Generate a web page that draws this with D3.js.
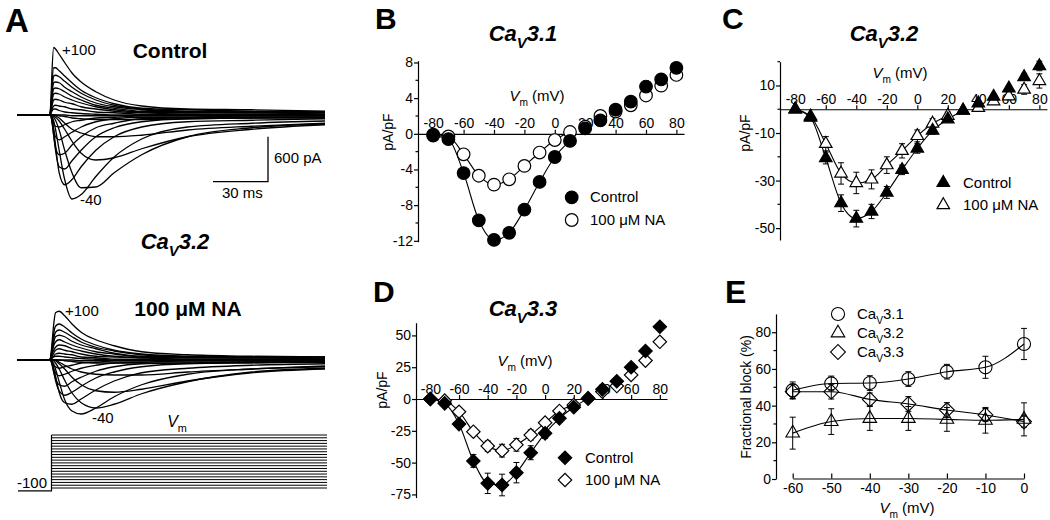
<!DOCTYPE html>
<html><head><meta charset="utf-8">
<script src="https://cdn.jsdelivr.net/npm/d3@7"></script>
<style>
body{margin:0;background:#fff}
svg{font-family:"Liberation Sans",Arial,Helvetica,sans-serif}
</style></head><body><svg id="c" width="1050" height="520"></svg>
<script>
// ---------- DATA ----------
const voltages = [-80,-70,-60,-50,-40,-30,-20,-10,0,10,20,30,40,50,60,70,80];
const xTickLabels = [-80,-60,-40,-20,0,20,40,60,80];

const b31Control = [-0.2,-0.6,-4.4,-9.7,-11.9,-11.1,-8.5,-5.4,-2.6,-0.8,0.6,1.5,2.7,3.6,5.3,6.1,7.4];
const b31NA      = [-0.1,-0.3,-2.3,-4.7,-5.7,-5.1,-3.6,-2.1,-0.7,0.2,0.8,2.0,2.5,3.2,4.3,5.4,6.6];
const b31ControlErr = [0,0.2,0.3,0.5,0.5,0.5,0.4,0.3,0.2,0.2,0.1,0.2,0.3,0.3,0.6,0.6,0.3];
const b31NAErr      = [0,0.1,0.2,0.3,0.3,0.3,0.3,0.2,0.2,0.1,0.2,0.2,0.2,0.3,0.3,0.3,0.3];
const bYTicks = [-12,-8,-4,0,4,8];

const c32Control = [0,-3.5,-20.5,-39.5,-46,-43,-35,-25.5,-16.5,-9,-4.2,-0.5,2.5,5.3,8.8,13.6,18.2];
const c32NA      = [0,-3,-14.5,-27,-31,-29.5,-23.5,-17.5,-11.2,-6,-2.7,-0.5,0.6,3.4,5.5,8.3,11.9];
const c32ControlErr = [0,1,2.5,3.5,3.5,3,2.5,2,2,1.5,1,1,1,1,1,1.5,2];
const c32NAErr      = [0,1,3,4.5,4.5,4,3.5,3,2.5,2,1.5,1,1,1,1.5,2,3];
const cYTicks = [10,-10,-30,-50];

const d33Control = [0,-3.4,-19.7,-48.7,-66.3,-67.6,-57.9,-42.2,-27,-15.2,-6.5,0.5,7.6,14,25,37.7,56.8];
const d33NA      = [0,-1.3,-10,-25.7,-37,-40.6,-36,-28.3,-18.6,-9.4,-4.7,0.5,5.8,10.2,18.9,30.2,45];
const d33ControlErr = [0,2,3,5,8,8.5,8,5.5,4,3,2,1.5,2,2,2,2,2];
const d33NAErr      = [0,1,2,3,4,5,5,4,3,2.5,2,1.5,2,2,2,2,2];
const dYTicks = [-75,-50,-25,0,25,50];

const eVoltages = [-60,-50,-40,-30,-20,-10,0];
const eCav31 = [48.4,52.1,52.3,54.5,58.5,60.9,73.6];
const eCav32 = [25,31.3,33,33,32.5,32,32.5];
const eCav33 = [47.6,47.6,43.4,40.9,37.6,34.9,31.3];
const eCav31Err = [4.5,4,4,4,4,6,8.5];
const eCav32Err = [8.7,7,6.5,6.5,6.5,7,9];
const eCav33Err = [4,4,3.5,4,4,3.5,3];
const eYTicks = [0,20,40,60,80];

// current traces (pA) sampled at traceTimes (ms)
const traceTimes = [0,0.5,1,2,3,5,8,12,17,25,35,50,75,110,150];
const ctrlTraces = [
 [0,200,530,900,880,810,700,560,440,310,200,120,80,70,50],
 [0,130,370,630,630,590,520,430,330,230,150,90,70,50,40],
 [0,110,290,520,530,510,450,370,290,200,130,80,50,40,40],
 [0,80,240,430,440,430,370,310,240,160,110,70,40,40,30],
 [0,70,190,350,360,350,310,250,200,130,90,50,40,30,30],
 [0,50,150,280,290,280,240,200,160,110,70,40,30,30,10],
 [0,40,110,200,210,200,170,150,110,80,50,30,10,10,10],
 [0,30,70,120,130,120,110,80,70,40,30,10,10,0,0],
 [0,20,50,80,80,60,40,30,20,10,0,0,0,0,0],
 [0,-10,-40,-110,-150,-160,-130,-90,-70,-40,-30,-10,-10,-10,-10],
 [0,-10,-70,-200,-290,-330,-290,-230,-160,-90,-50,-30,-30,-10,-10],
 [0,-10,-80,-270,-430,-530,-510,-400,-290,-170,-110,-50,-40,-30,-30],
 [0,-10,-70,-270,-470,-690,-720,-610,-470,-290,-170,-90,-50,-40,-40],
 [0,0,-40,-190,-400,-770,-930,-860,-690,-470,-290,-160,-90,-70,-50],
 [0,0,-10,-80,-190,-470,-860,-1120,-1060,-820,-560,-320,-160,-110,-80],
 [0,0,0,-30,-70,-200,-470,-770,-970,-960,-770,-530,-290,-170,-120],
 [0,0,0,-10,-30,-80,-190,-350,-510,-600,-570,-450,-290,-190,-130],
 [0,0,0,0,-10,-40,-110,-190,-240,-290,-290,-270,-200,-150,-110],
 [0,0,0,0,0,-10,-20,-40,-50,-60,-60,-60,-50,-40,-30],
 [0,0,0,0,0,0,0,-10,-10,-10,-10,-10,-10,-10,-10]
];
const naTraces = [
 [0,70,200,470,630,650,590,480,370,270,190,110,70,50,40],
 [0,50,150,350,450,480,440,360,280,200,130,80,50,40,40],
 [0,40,120,280,370,400,370,310,240,170,120,70,40,40,30],
 [0,40,110,230,310,330,310,250,200,150,90,50,40,30,30],
 [0,30,80,190,240,270,240,200,160,110,80,40,30,30,10],
 [0,30,70,130,170,200,190,150,120,80,50,30,10,10,10],
 [0,10,40,90,130,150,130,110,80,50,40,30,10,10,10],
 [0,10,30,50,80,90,80,70,40,30,10,10,0,0,0],
 [0,10,20,40,50,50,40,30,20,10,0,0,0,0,0],
 [0,-10,-30,-70,-90,-110,-90,-70,-40,-30,-10,-10,-10,-10,-10],
 [0,-10,-40,-120,-170,-210,-190,-150,-110,-70,-40,-30,-10,-10,-10],
 [0,-10,-50,-160,-250,-330,-350,-290,-230,-150,-90,-50,-40,-30,-30],
 [0,-10,-40,-150,-270,-410,-470,-430,-350,-240,-160,-90,-50,-40,-30],
 [0,0,-30,-110,-210,-430,-570,-590,-520,-400,-280,-170,-110,-70,-50],
 [0,0,-10,-50,-120,-290,-530,-680,-720,-640,-490,-330,-190,-120,-90],
 [0,0,0,-10,-40,-120,-270,-440,-570,-640,-590,-450,-290,-160,-110],
 [0,0,0,0,-10,-50,-120,-230,-330,-410,-430,-390,-280,-170,-120],
 [0,0,0,0,0,-30,-70,-120,-160,-190,-200,-200,-160,-120,-80],
 [0,0,0,0,0,0,-10,-20,-30,-40,-40,-40,-40,-30,-20],
 [0,0,0,0,0,0,0,0,-10,-10,-10,-10,-10,-10,-10]
];
const stepVoltages = [-90,-80,-70,-60,-50,-40,-30,-20,-10,0,10,20,30,40,50,60,70,80,90,100];
const holdingVoltage = -100;

// ---------- HELPERS ----------
const svg = d3.select('#c');
svg.append('rect').attr('width',1050).attr('height',520).attr('fill','#fff');
const INK = '#000';

function rich(parent, x, y, parts, o) {
  const t = parent.append('text').attr('x',x).attr('y',y)
    .attr('text-anchor',o.anchor||'start').attr('font-size',o.size)
    .attr('font-weight',o.weight||'normal').attr('font-style',o.style||'normal').attr('fill',INK);
  let shift = 0;
  parts.forEach(p => {
    const s = t.append('tspan').text(p.t);
    const target = p.sub ? o.size*0.3 : 0;
    if (target !== shift) { s.attr('dy', target-shift); shift = target; }
    if (p.sub) s.attr('font-size', o.size*0.68);
    if (p.it) s.attr('font-style','italic');
  });
  if (o.rotate) t.attr('transform',`rotate(-90,${x},${y})`);
  return t;
}
const vmParts = [{t:'V',it:true},{t:'m',sub:true},{t:' (mV)'}];
function styleAxis(g){
  g.attr('font-size',14).attr('font-family',null);
  g.selectAll('.domain,.tick line').attr('stroke',INK).attr('stroke-width',1.2);
  g.selectAll('.tick text').attr('fill',INK);
}
function letter(x,y,t,size){
  svg.append('text').attr('x',x).attr('y',y).attr('font-size',size||32).attr('font-weight','bold').attr('fill',INK).text(t);
}

// ---------- IV PANELS ----------
function ivPanel(cfg){
  const g = svg.append('g');
  const x = d3.scaleLinear().domain([-90,85]).range(cfg.xRange);
  const y = d3.scaleLinear().domain(cfg.yDom).range(cfg.yRange);
  const y0 = x.range()[0];
  const ya = g.append('g').attr('transform',`translate(${y0},0)`)
    .call(d3.axisLeft(y).tickValues(cfg.yTicks).tickSize(4).tickSizeOuter(0).tickPadding(cfg.yPad).tickFormat(d=>String(d)));
  styleAxis(ya);
  (cfg.yMinor||[]).forEach(v=>g.append('line').attr('x1',y0-2.5).attr('x2',y0).attr('y1',y(v)).attr('y2',y(v)).attr('stroke',INK).attr('stroke-width',1.2));
  const xa = g.append('g').attr('transform',`translate(0,${y(0)})`)
    .call(d3.axisTop(x).tickValues(xTickLabels).tickSize(4).tickSizeOuter(0).tickPadding(cfg.xPad).tickFormat(d=>String(d)));
  styleAxis(xa);
  rich(g, cfg.vm[0], cfg.vm[1], vmParts, {size:15, anchor:'middle'});
  rich(g, cfg.yl[0], cfg.yl[1], [{t:'pA/pF'}], {size:14, anchor:'middle', rotate:true});
  rich(g, cfg.title[0], cfg.title[1], [{t:'Ca'},{t:'V',sub:true},{t:cfg.titleNum}], {size:22, anchor:'middle', weight:'bold', style:'italic'});

  const series = [
    {vals:cfg.na, err:cfg.naErr, fill:'#fff', fit:cfg.naFit},
    {vals:cfg.ctrl, err:cfg.ctrlErr, fill:INK, fit:cfg.ctrlFit}
  ];
  const line = d3.line().x(d=>x(d[0])).y(d=>y(d[1])).curve(d3.curveMonotoneX);
  series.forEach(s=>{
    const pts = voltages.map((v,i)=>[v,s.vals[i]]).filter(d=>d[0]<=s.fit);
    g.append('path').attr('d',line(pts)).attr('fill','none').attr('stroke',INK).attr('stroke-width',1.1);
  });
  series.forEach(s=>{
    voltages.forEach((v,i)=>{
      const e = s.err[i]; if(!e) return;
      const cx = x(v), t = y(s.vals[i]+e), b = y(s.vals[i]-e);
      g.append('path').attr('d',`M${cx},${t}V${b}M${cx-3},${t}H${cx+3}M${cx-3},${b}H${cx+3}`)
        .attr('stroke',INK).attr('stroke-width',1).attr('fill','none');
    });
  });
  series.forEach(s=>{
    g.selectAll(null).data(voltages.map((v,i)=>[v,s.vals[i]])).join('path')
      .attr('d', d3.symbol().type(cfg.sym).size(cfg.symSize)())
      .attr('transform', d=>`translate(${x(d[0])},${y(d[1])})${cfg.rot?' rotate(45)':''}`)
      .attr('fill', s.fill).attr('stroke',INK).attr('stroke-width',1.2);
  });
  const lg = [[cfg.leg[1], INK, 'Control'], [cfg.leg[1]+cfg.leg[3], '#fff', '100 \u03bcM NA']];
  lg.forEach(l=>{
    g.append('path').attr('d', d3.symbol().type(cfg.sym).size(cfg.symSize)())
      .attr('transform',`translate(${cfg.leg[0]},${l[0]})${cfg.rot?' rotate(45)':''}`)
      .attr('fill',l[1]).attr('stroke',INK).attr('stroke-width',1.2);
    g.append('text').attr('x',cfg.leg[2]).attr('y',l[0]+5).attr('font-size',15).attr('fill',INK).text(l[2]);
  });
}

ivPanel({xRange:[418,684], yDom:[-12.1,8.2], yRange:[241.7,60.7], yTicks:bYTicks, yMinor:[-10,-6,-2,2,6], yPad:1, xPad:2,
  vm:[537,101], yl:[393,132], title:[523,41], titleNum:'3.1',
  ctrl:b31Control, na:b31NA, ctrlErr:b31ControlErr, naErr:b31NAErr, ctrlFit:10, naFit:10,
  sym:d3.symbolCircle, symSize:125, leg:[571.7,197.3,590,22.7]});
ivPanel({xRange:[780,1047], yDom:[-55,20], yRange:[240,61.7], yTicks:cYTicks, yMinor:[20,0,-20,-40], yPad:1, xPad:1,
  vm:[900,78], yl:[750,133], title:[884,41], titleNum:'3.2',
  ctrl:c32Control, na:c32NA, ctrlErr:c32ControlErr, naErr:c32NAErr, ctrlFit:30, naFit:20,
  sym:d3.symbolTriangle, symSize:68, leg:[943.3,182.7,963,22.3]});
ivPanel({xRange:[416,667], yDom:[-77.5,60], yRange:[497.6,322.7], yTicks:dYTicks, yPad:1, xPad:1,
  vm:[525,366], yl:[387,390], title:[523,316], titleNum:'3.3',
  ctrl:d33Control, na:d33NA, ctrlErr:d33ControlErr, naErr:d33NAErr, ctrlFit:30, naFit:20,
  sym:d3.symbolSquare, symSize:90, rot:true, leg:[565,457.7,585,22.3]});

// ---------- PANEL E ----------
(function(){
  const g = svg.append('g');
  const x = d3.scaleLinear().domain([-60,0]).range([792.7,1024]);
  const y = d3.scaleLinear().domain([0,90]).range([479,313.9]);
  const ya = g.append('g').attr('transform','translate(776,0)')
    .call(d3.axisLeft(y).tickValues(eYTicks).tickSize(4).tickSizeOuter(0).tickPadding(1).tickFormat(d=>String(d)));
  styleAxis(ya);
  [10,30,50,70].forEach(v=>g.append('line').attr('x1',773.5).attr('x2',776).attr('y1',y(v)).attr('y2',y(v)).attr('stroke',INK).attr('stroke-width',1.2));
  const xa = g.append('g').attr('transform','translate(0,478.5)')
    .call(d3.axisBottom(x).tickValues(eVoltages).tickSize(-5).tickSizeOuter(0).tickPadding(5).tickFormat(d=>String(d)));
  styleAxis(xa);
  rich(g, 907, 513, vmParts, {size:15, anchor:'middle'});
  rich(g, 751, 397, [{t:'Fractional block (%)'}], {size:14, anchor:'middle', rotate:true});
  const series = [
    {vals:eCav32, err:eCav32Err, sym:d3.symbolTriangle, size:80, rot:false, name:'3.2'},
    {vals:eCav33, err:eCav33Err, sym:d3.symbolSquare, size:110, rot:true, name:'3.3'},
    {vals:eCav31, err:eCav31Err, sym:d3.symbolCircle, size:135, rot:false, name:'3.1'}
  ];
  const line = d3.line().x(d=>x(d[0])).y(d=>y(d[1])).curve(d3.curveMonotoneX);
  series.forEach(s=>{
    g.append('path').attr('d',line(eVoltages.map((v,i)=>[v,s.vals[i]]))).attr('fill','none').attr('stroke',INK).attr('stroke-width',1.1);
  });
  series.forEach(s=>{
    eVoltages.forEach((v,i)=>{
      const cx=x(v), t=y(s.vals[i]+s.err[i]), b=y(s.vals[i]-s.err[i]);
      g.append('path').attr('d',`M${cx},${t}V${b}M${cx-3},${t}H${cx+3}M${cx-3},${b}H${cx+3}`).attr('stroke',INK).attr('stroke-width',1).attr('fill','none');
    });
  });
  series.forEach(s=>{
    g.selectAll(null).data(eVoltages.map((v,i)=>[v,s.vals[i]])).join('path')
      .attr('d', d3.symbol().type(s.sym).size(s.size)())
      .attr('transform', d=>`translate(${x(d[0])},${y(d[1])})${s.rot?' rotate(45)':''}`)
      .attr('fill','none').attr('stroke',INK).attr('stroke-width',1.1);
  });
  const legOrder = [series[2], series[0], series[1]];
  legOrder.forEach((s,i)=>{
    const ly = 314 + i*19;
    g.append('path').attr('d', d3.symbol().type(s.sym).size(s.size)())
      .attr('transform',`translate(838,${ly})${s.rot?' rotate(45)':''}`)
      .attr('fill','none').attr('stroke',INK).attr('stroke-width',1.1);
    rich(g, 857, ly+5, [{t:'Ca'},{t:'V',sub:true},{t:s.name}], {size:15});
  });
})();

// ---------- PANEL A ----------
(function(){
  const g = svg.append('g');
  const xT = d3.scaleLinear().domain([0,150]).range([50,325]);
  const yTop = d3.scaleLinear().domain([0,600]).range([115,70]);
  const yBot = d3.scaleLinear().domain([0,600]).range([360,315]);
  function family(ys, traces){
    g.append('line').attr('x1',xT(-18)).attr('x2',xT(0)).attr('y1',ys(0)).attr('y2',ys(0)).attr('stroke',INK).attr('stroke-width',2);
    const line = d3.line().x((d,i)=>xT(traceTimes[i])).y(d=>ys(d)).curve(d3.curveMonotoneX);
    traces.forEach(tr=>{
      g.append('path').attr('d',line(tr)).attr('fill','none').attr('stroke',INK).attr('stroke-width',1.3);
    });
  }
  family(yTop, ctrlTraces);
  family(yBot, naTraces);
  const bx = 268, by = 181.7;
  g.append('path').attr('d',`M${bx-(xT(30)-xT(0))},${by}H${bx}V${by-(yTop(0)-yTop(600))}`).attr('fill','none').attr('stroke',INK).attr('stroke-width',1.3);
  g.append('text').attr('x',274).attr('y',163).attr('font-size',15).attr('fill',INK).text('600 pA');
  g.append('text').attr('x',222).attr('y',198).attr('font-size',15).attr('fill',INK).text('30 ms');
  g.append('text').attr('x',62).attr('y',55).attr('font-size',15).attr('fill',INK).text('+100');
  g.append('text').attr('x',80).attr('y',205).attr('font-size',15).attr('fill',INK).text('-40');
  g.append('text').attr('x',65).attr('y',316).attr('font-size',15).attr('fill',INK).text('+100');
  g.append('text').attr('x',92).attr('y',423).attr('font-size',15).attr('fill',INK).text('-40');
  g.append('text').attr('x',170).attr('y',58).attr('font-size',21).attr('font-weight','bold').attr('text-anchor','middle').attr('fill',INK).text('Control');
  g.append('text').attr('x',188).attr('y',316).attr('font-size',21).attr('font-weight','bold').attr('text-anchor','middle').attr('fill',INK).text('100 \u03bcM NA');
  rich(g, 175, 249, [{t:'Ca'},{t:'V',sub:true},{t:'3.2'}], {size:22, anchor:'middle', weight:'bold', style:'italic'});
  const yV = d3.scaleLinear().domain([-100,100]).range([490.8,435]);
  const xP0 = 51.5, xP1 = 327;
  g.append('path').attr('d',`M18,${yV(holdingVoltage)}H${xP0}V${yV(100)}`).attr('fill','none').attr('stroke',INK).attr('stroke-width',1.2);
  stepVoltages.forEach(v=>g.append('line').attr('x1',xP0).attr('x2',xP1).attr('y1',yV(v)).attr('y2',yV(v)).attr('stroke',INK).attr('stroke-width',1));
  g.append('text').attr('x',17).attr('y',488).attr('font-size',15).attr('fill',INK).text('-100');
  rich(g, 177, 427, [{t:'V',it:true},{t:'m',sub:true}], {size:16, anchor:'middle'});
})();

letter(5,32,'A',33);
letter(375,29,'B',30);
letter(722,29,'C',30);
letter(373,302,'D',30);
letter(725,303,'E',32);
</script></body></html>
